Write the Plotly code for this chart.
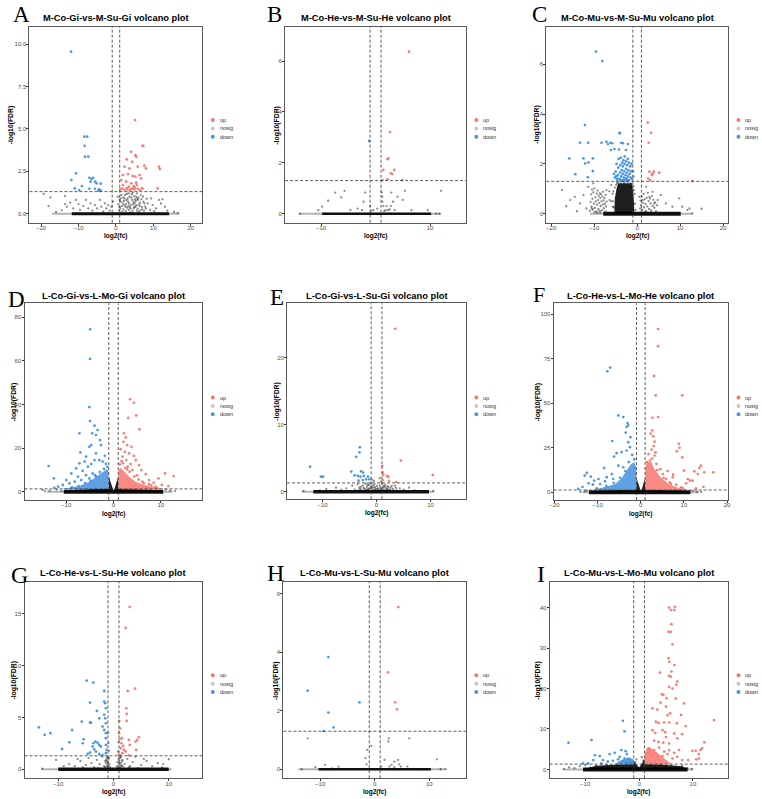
import plotly.graph_objects as go

W, H = 762, 799
FONT = "Liberation Sans"
SERIF = "Liberation Serif"

UP_COLOR = "rgba(248,118,109,0.95)"
DOWN_COLOR = "rgba(66,146,222,0.95)"
NOSIG_COLOR = "rgba(0,0,0,0.45)"
UP_MASS = "rgba(248,118,109,0.85)"
DOWN_MASS = "rgba(66,146,222,0.85)"
LEG_UP, LEG_NOSIG, LEG_DOWN = "#F8766D", "#C8C8C8", "#4A95DA"

PANELS = ["A", "B", "C", "D", "E", "F", "G", "H", "I"]
TITLES = ["M-Co-Gi-vs-M-Su-Gi volcano plot", "M-Co-He-vs-M-Su-He volcano plot",
          "M-Co-Mu-vs-M-Su-Mu volcano plot", "L-Co-Gi-vs-L-Mo-Gi volcano plot",
          "L-Co-Gi-vs-L-Su-Gi volcano plot", "L-Co-He-vs-L-Mo-He volcano plot",
          "L-Co-He-vs-L-Su-He volcano plot", "L-Co-Mu-vs-L-Su-Mu volcano plot",
          "L-Co-Mu-vs-L-Mo-Mu volcano plot"]
GROUPS = ["up", "nosig", "down"]
FC_CUT = [-1, 1]
FDR_CUT = 1.301
X_LABEL = "log2(fc)"
Y_LABEL = "-log10(FDR)"

# ---------------- Panel A ----------------
A_up = [(5.1,5.52),(7.1,4.0),(7.3,4.0),(4.05,3.65),(5.2,3.45),(5.4,3.35),(2.9,3.2),(4.3,3.06),(2.3,2.77),
        (3.6,2.67),(5.8,2.77),(7.6,2.83),(8.0,2.67),(11.5,2.77),(11.7,2.63),(1.85,2.28),(3.2,2.34),(4.5,2.22),
        (5.2,2.18),(6.3,2.28),(6.7,2.08),(1.4,1.98),(2.7,1.89),(4.05,1.79),(5.4,1.83),(1.85,1.69),(3.4,1.59),
        (4.7,1.63),(5.55,1.69),(1.7,1.49),(2.9,1.49),(4.05,1.45),(4.9,1.43),(5.8,1.47),(7.1,1.47),(11.1,1.49),
        (1.15,1.43),(2.3,1.39),(3.6,1.39),(6.3,1.39),(6.9,1.5),(3.0,1.45),(4.4,1.5),(5.0,1.55)]
A_down = [(-12.0,9.55),(-8.46,4.54),(-7.67,4.54),(-8.37,4.0),(-8.3,3.36),(-7.4,3.36),(-10.7,2.38),(-11.9,1.98),
          (-7.1,2.12),(-6.5,2.04),(-6.1,2.12),(-6.8,1.89),(-5.55,1.89),(-5.2,1.79),(-4.1,1.77),(-9.1,1.63),
          (-11.0,1.49),(-9.8,1.39),(-7.1,1.47),(-5.6,1.47),(-4.5,1.43),(-4.05,1.36),(-4.7,1.36)]
A_nosig = [(-19.3,1.16),(-17.5,0.96),(-16,0.1),(-14.5,0.2),(-13.6,1.04),(-18,0.45),(-13.6,0.57),(-13.1,0.41),
           (-12.2,0.65),(-11.4,0.31),(-10.7,0.81),(-10.0,0.57),(-9.6,0.22),(-8.7,0.45),(-8.0,0.81),(-7.4,0.31),
           (-6.8,0.61),(-6.3,0.18),(-5.6,0.51),(-5.0,0.31),(-4.3,0.81),(-3.9,0.41),(-3.4,0.12),(-3.0,0.61),
           (-2.6,0.31),(-2.1,0.51),(-1.7,0.18),(-1.2,0.41),(-0.8,0.71),
           (0.5,1.0),(1.0,0.81),(1.4,1.1),(1.85,0.61),(2.3,0.9),(2.55,0.41),(2.9,1.16),(3.2,0.71),(3.4,0.22),
           (3.6,1.0),(4.0,0.51),(4.3,0.81),(4.5,1.24),(4.75,0.31),(5.0,0.61),(5.4,1.0),(5.6,0.18),(5.9,0.81),
           (6.3,0.45),(6.6,1.1),(7.0,0.26),(7.3,0.71),(7.8,0.41),(8.5,0.61),(9.1,0.22),(9.8,0.51),(10.7,0.31),
           (11.5,0.81),(12.4,0.85),(13.1,0.41),(13.7,0.18),(1.15,0.31),(1.7,0.12),(2.0,0.26),(2.7,0.57),
           (3.3,0.45),(3.8,0.06),(4.1,0.96),(4.7,0.69),(5.2,0.41),(5.7,0.88),(6.1,0.1),(6.4,0.65),(6.8,0.85),
           (7.5,0.18),(8.2,0.88),(0.6,0.57),(1.3,0.71),(2.4,1.1),(3.1,0.88),(4.85,1.04),(0.8,0.2),(1.6,0.45),
           (2.1,0.75),(2.6,0.15),(3.0,0.35),(3.5,0.6),(3.9,0.3),(4.4,0.15),(4.9,0.4),(5.3,0.75),(5.8,0.3),
           (6.2,0.55),(6.9,0.4),(7.2,1.0),(8.0,0.3),(9.4,0.9),(10.2,0.15),(12.0,0.6),(15.5,0.1),(16.5,0.05),
           (1.9,0.95),(2.2,0.5),(2.8,0.8),(3.7,0.38),(4.2,1.15),(4.6,0.55),(5.1,0.85),(5.5,0.5),(6.0,0.95),
           (6.5,0.2),(7.6,0.6),(0.9,0.4),(1.2,0.9),(3.4,1.2),(5.6,1.2)]
A_band = (-11.8, 14.2)
A_band_faint = (-17.0, 17.0)
A_nosig_dense = []
A_up_mass = []
A_down_mass = []
A_xticks = [-20, -10, 0, 10, 20]
A_yticks = [0, 2.5, 5, 7.5, 10]
A_yticklabels = ["0.0", "2.5", "5.0", "7.5", "10.0"]

# ---------------- Panel B ----------------
B_up = [(6.15,6.37),(2.64,3.21),(2.33,2.18),(2.2,2.14),(1.42,1.72),(3.42,1.72),(2.8,1.59),(3.06,1.56),
        (2.2,1.35),(1.24,1.32),(4.9,1.32)]
B_down = [(-1.18,2.86)]
B_nosig = [(-7.4,0.83),(-5.7,0.9),(-8.7,0.51),(-9.8,0.28),(-10.5,0.14),(-13.9,0.0),(-6.3,0.64),(-4.6,0.14),
           (-2.5,0.14),(-1.9,0.83),(-2.2,0.47),(-0.4,0.14),(-0.8,0.12),(1.12,0.84),(1.24,0.67),(1.24,0.47),
           (1.4,0.3),(1.85,0.14),(2.3,0.14),(2.6,0.17),(2.9,0.83),(3.2,0.47),(3.5,0.14),(4.0,0.67),(5.0,0.54),
           (5.4,0.9),(6.6,0.14),(9.6,0.14),(12.0,0.9),(11.1,0.0),(11.7,0.0),(-1.0,0.3),(0.3,0.2),(1.6,0.1),
           (2.0,0.3),(2.8,0.3),(-3.3,0.2)]
B_band = (-9.8, 10.2)
B_band_faint = (-14.0, 12.0)
B_nosig_dense = []
B_up_mass = []
B_down_mass = []
B_xticks = [-10, 10]
B_yticks = [0, 2, 4, 6]
B_yticklabels = ["0", "2", "4", "6"]

# ---------------- Panel C ----------------
C_up = [(2.46,3.66),(3.23,3.25),(2.7,2.85),(2.85,1.69),(3.6,1.62),(3.9,1.69),(5.15,1.65),(3.46,1.55),
        (3.0,1.35),(12.85,1.31),(2.55,1.42)]
C_down = [(-9.6,6.51),(-8.1,6.13),(-12.15,3.56),(-4.1,3.25),(-13.3,2.85),(-11.4,2.85),(-8.3,2.85),(-7.15,2.89),
          (-6.8,2.8),(-6.2,2.85),(-5.8,2.83),(-3.7,2.85),(-3.3,2.83),(-2.15,2.8),(-15.8,2.22),(-12.5,2.22),
          (-12.1,2.02),(-11.3,2.06),(-10.3,2.22),(-14.4,1.59),(-11.5,1.46),(-10.3,1.71),(-6.1,2.56),(-5.3,2.6),
          (-4.2,2.58),(-2.6,2.56),(-4.0,3.23),
          (-5.2,1.45),(-5.0,1.7),(-4.8,2.0),(-4.7,1.35),(-4.5,1.55),(-4.4,1.85),(-4.3,2.2),(-4.1,1.4),(-4.0,1.65),
          (-3.9,1.95),(-3.8,2.25),(-3.7,1.5),(-3.6,1.75),(-3.5,2.05),(-3.45,1.35),(-3.35,1.6),(-3.3,1.9),
          (-3.2,2.15),(-3.1,1.45),(-3.0,1.7),(-2.95,2.0),(-2.9,2.3),(-2.8,1.38),(-2.7,1.55),(-2.6,1.8),
          (-2.55,2.1),(-2.45,1.42),(-2.4,1.65),(-2.3,1.95),(-2.2,2.2),(-2.1,1.5),(-2.0,1.75),(-1.9,2.05),
          (-1.85,1.35),(-1.75,1.6),(-1.6,1.9),(-1.5,1.45),(-1.4,1.7),(-1.3,2.0),(-1.2,1.4),(-4.6,1.4),
          (-3.95,1.35),(-3.25,1.32),(-2.65,1.32),(-2.05,1.34),(-5.4,1.6),(-4.9,1.5)]
C_nosig = [(-17.5,0.95),(-15.6,0.55),(-14.5,0.68),(-13.3,0.41),(-12.5,0.75),(-11.8,0.21),(-11.4,1.08),
           (-7.15,0.95),(-6.4,0.55),(-6.0,1.15),(-5.6,0.28),(-8.7,0.82),(-10.2,1.22),
           (2.1,1.08),(3.6,0.88),(4.8,0.55),(5.5,0.75),(6.7,0.41),(8.2,0.28),(9.8,0.62),(10.5,0.28),(11.7,0.15),
           (12.2,0.21),(12.85,0.01),(0.5,0.68),(1.3,0.55),(2.85,0.68),(4.0,0.41),(-1.4,1.08),
           (-6.5,0.9),(-6.0,0.5),(-5.7,0.8),(-16.5,0.3),(-14,0.1),(15,0.2),
           (-11.0,0.12),(-10.85,0.47),(-10.7,0.78),(-10.62,0.28),(-10.5,0.97),(-10.41,0.6),(-10.3,0.17),
           (-10.18,0.86),(-10.05,0.41),(-9.93,1.02),(-9.84,0.23),(-9.72,0.66),(-9.6,0.5),(-9.5,0.09),
           (-9.41,0.81),(-9.33,0.36),(-9.2,0.93),(-9.1,0.55),(-9.02,0.19),(-8.93,0.72),(-8.82,0.44),
           (-8.7,0.11),(-8.6,0.63),(-8.51,0.31),(-8.43,0.79),(-8.3,0.5),(-8.2,0.14),(-8.1,0.7),(-8.0,0.36),
           (-7.9,0.88),(-7.8,0.54),(-7.72,0.22),(-7.61,0.64),(-7.5,0.4),(-7.42,0.08),(-7.3,0.76),(-7.2,0.29),
           (-7.1,0.49),(-10.55,0.21),(-9.88,0.06),(-9.23,0.04),(-8.58,0.05),
           (0.72,0.21),(0.81,0.53),(0.93,0.33),(1.08,0.69),(1.19,0.16),(1.36,0.44),(1.52,0.8),(1.63,0.26),
           (1.77,0.58),(1.92,0.39),(2.04,0.11),(2.21,0.64),(2.37,0.29),(2.49,0.84),(2.66,0.51),(2.79,0.19),
           (2.97,0.61),(3.12,0.41),(3.28,0.14),(3.44,0.71),(3.62,0.31),(3.79,0.56),(4.02,0.24),(4.18,0.46),
           (4.41,0.09),(4.63,0.34),(1.01,0.05),(1.72,0.06),(2.43,0.04),(3.21,0.05),
           (-5.5,0.9),(-5.6,0.5),(-5.45,0.25),(-4.9,1.15),(-4.5,1.25),(-3.8,1.27),(-3.0,1.25),(-2.2,1.27),
           (-1.5,1.22),(-0.9,1.1),(-0.55,0.8),(-0.5,0.4),(-0.4,0.15),(-0.8,1.5),(-0.9,1.7),(-5.2,1.05),
           (-4.7,1.22),(-1.1,1.2),(-0.75,0.95)]
C_band = (-7.9, 10.15)
C_band_faint = (-11.0, 12.8)
C_nosig_dense = [[(-5.3,0),(-5.2,0.6),(-4.8,1.0),(-4.4,1.22),(-1.3,1.22),(-0.95,0.95),(-0.75,0.5),(-0.65,0)]]
C_up_mass = []
C_down_mass = []
C_xticks = [-20, -10, 0, 10, 20]
C_yticks = [0, 2, 4, 6]
C_yticklabels = ["0", "2", "4", "6"]

# ---------------- Panel D ----------------
D_up = [(3.5,42.4),(4.3,40.8),(4.8,35.0),(3.1,33.9),(5.5,28.6),(2.2,26.8),(2.6,24.9),(2.1,22.9),(2.9,21.4),
        (3.8,20.6),(2.4,18.3),(3.3,17.6),(4.3,16.4),(1.9,16.1),(2.7,14.5),(4.7,14.5),(3.6,12.7),(5.4,12.2),
        (5.9,9.9),(4.0,9.9),(6.8,8.1),(10.9,8.4),(12.7,7.2),(9.5,6.1),(7.5,5.35),(8.5,4.1),(10.2,3.1),
        (11.6,2.6),(8.85,2.3),(7.5,3.5),(6.1,4.6),(1.5,19.5),(2.0,13.0),(3.0,11.5),(5.0,7.5),(7.0,2.2),(9.2,1.8),
        (1.3,12.5),(2.5,11.0),(3.4,9.2),(4.4,7.0),(5.3,5.6),(6.4,3.9),(8.0,2.9),(1.7,14.0),(2.9,10.2)]
D_down = [(-4.95,74.5),(-4.95,60.9),(-5.1,38.8),(-4.95,32.4),(-4.0,30.3),(-3.35,28.3),(-7.2,26.8),(-4.5,26.8),
          (-3.7,26.0),(-4.7,21.4),(-5.1,20.6),(-7.0,18.0),(-2.85,23.7),(-2.65,21.4),(-5.8,16.1),(-3.7,17.6),
          (-7.2,13.0),(-6.1,13.8),(-13.7,11.8),(-12.6,6.1),(-10.0,5.35),(-8.9,8.4),(-7.9,10.7),(-6.5,9.6),
          (-5.4,11.5),(-4.7,12.7),(-4.0,14.5),(-3.0,14.5),(-2.3,13.8),(-10.7,3.1),(-11.7,2.3),(-9.3,3.8),
          (-8.2,4.6),(-7.5,6.9),(-6.8,5.35),(-5.8,7.6),(-5.1,6.1),(-4.4,8.4),(-3.7,6.9),(-1.8,16.5),(-12.5,1.8),
          (-1.3,11.5),(-2.0,10.5),(-2.9,9.0),(-3.9,7.6),(-4.8,5.0),(-6.0,4.0),(-7.4,2.6),(-8.8,2.0),(-1.6,12.8)]
D_nosig = [(-15,0.8),(-13.5,0.5),(-12,1.0),(-11,0.4),(11,1.0),(12,0.6),(13,0.3),(-14.5,0.2)]
D_band = (-10.5, 10.5)
D_band_faint = (-14.0, 12.5)
D_nosig_dense = [[(-10.5,0),(-8,0.9),(-4,1.25),(-1,1.3),(-1,7),(-0.6,4.5),(-0.25,1.5),(0,0.6),(0.25,1.5),
                  (0.6,4.5),(1,7),(1,1.3),(4,1.25),(8,0.9),(10.5,0)]]
D_up_mass = [[(1.05,1.3),(1.05,10),(1.5,11),(2.2,9.5),(3.3,7),(4.7,4.5),(6.8,2.8),(9.5,1.8),(10.5,1.3)]]
D_down_mass = [[(-1.05,1.3),(-1.05,9),(-1.3,10.5),(-2.3,9.0),(-3.7,6.8),(-5.1,4.6),(-7.2,2.6),(-9.5,1.7),(-11,1.3)]]
D_xticks = [-10, 0, 10]
D_yticks = [0, 20, 40, 60, 80]
D_yticklabels = ["0", "20", "40", "60", "80"]

# ---------------- Panel E ----------------
E_up = [(3.45,24.3),(4.5,4.63),(10.4,2.49),(1.07,3.83),(1.13,2.89),(1.25,2.49),(1.93,2.34),(2.17,2.24),
        (1.13,1.74),(3.6,1.44),(2.3,1.6)]
E_down = [(-3.1,6.62),(-3.15,5.87),(-3.76,5.2),(-12.3,3.73),(-4.68,2.99),(-2.84,3.03),(-2.5,2.84),(-4.06,2.44),
          (-3.45,2.34),(-2.97,2.24),(-2.35,2.34),(-10.3,2.24),(-9.9,2.24),(-1.6,2.24),(-1.93,1.84),(-1.32,1.84),
          (-2.54,1.74),(-3.33,1.64)]
E_nosig = [(-9.3,0.4),(-5.6,0.5),(-10.5,0.2),(-4.5,0.9),(-4.0,0.3),(-3.5,1.1),(-3.2,0.6),(-2.8,0.2),(-2.5,0.9),
           (-2.2,0.4),(-2.0,1.2),(-1.8,0.7),(-1.6,0.3),(-1.4,1.0),(-1.2,0.5),(-1.0,0.8),(-0.8,0.2),(-0.6,0.6),
           (-0.4,1.1),(-0.2,0.3),(0.2,0.5),(0.4,0.2),(0.6,0.9),(0.8,0.4),(1.0,1.2),(1.2,0.6),(1.4,0.3),(1.6,1.0),
           (1.8,0.5),(2.0,0.8),(2.3,0.2),(2.6,0.6),(3.0,0.4),(3.4,0.9),(3.8,0.2),(4.3,0.5),(5.0,0.3),(6.0,0.6),
           (7.0,0.2),(-6.5,0.3),(-7.5,0.6),(-3.0,0.4),(-2.6,0.1),(-1.9,0.3),(1.1,0.2),(1.5,0.7),(2.1,0.35),
           (-1.1,1.25),(-0.5,1.6),(0.6,2.0),(0.8,1.5),(-0.8,1.8),(-13.5,0.1),(10.5,0.1),
           (-3.3,0.2),(-2.9,0.75),(-2.4,0.55),(-2.1,0.15),(-1.7,1.0),(-1.5,0.45),(-1.3,0.2),(-0.9,0.55),
           (-0.7,0.95),(-0.5,0.25),(-0.3,0.7),(-0.1,0.45),(0.1,0.85),(0.3,0.35),(0.5,0.1),(0.7,0.6),(0.9,0.25),
           (1.3,0.9),(1.7,0.15),(1.9,0.35),(2.2,0.7),(2.5,0.3),(2.8,0.85),(3.2,0.15),(3.6,0.55)]
E_band = (-11.7, 9.7)
E_band_faint = (-13.9, 10.6)
E_nosig_dense = []
E_up_mass = []
E_down_mass = []
E_xticks = [-10, 0, 10]
E_yticks = [0, 10, 20]
E_yticklabels = ["0", "10", "20"]

# ---------------- Panel F ----------------
F_up = [(4.0,91.7),(4.0,82.1),(3.07,65.4),(3.45,54.5),(9.58,54.5),(4.0,42.3),(2.7,41.9),(2.68,34.8),(2.3,33.0),
        (2.9,31.5),(3.2,28.5),(3.0,26.0),(2.5,24.0),(3.4,22.5),(8.8,27.3),(8.97,25.0),(8.35,23.1),(9.6,19.7),
        (10.0,12.2),(13.95,15.0),(13.6,13.7),(12.4,11.8),(14.7,11.3),(16.8,11.3),(13.2,10.3),(10.9,7.5),
        (11.4,6.6),(12.0,6.6),(10.5,5.1),(7.4,8.5),(6.7,5.6),(5.1,10.3),(5.9,7.5),(8.2,4.3),(9.3,2.8),
        (3.2,20.7),(2.1,17.9),(3.6,16.0),(4.5,13.0),(6.2,12.0),(7.5,10.0),(14.5,3.0),(12.8,2.2),
        (1.4,17.0),(2.6,19.0),(3.8,12.5),(5.3,8.2),(7.0,4.8),(9.8,2.2),(1.8,21.5)]
F_down = [(-7.75,68.0),(-7.1,70.1),(-5.2,43.2),(-4.06,42.3),(-3.07,38.9),(-2.9,37.6),(-3.3,36.7),(-3.5,33.5),
          (-6.6,28.8),(-2.4,31.0),(-2.9,28.2),(-2.5,25.4),(-4.44,22.6),(-3.3,23.5),(-5.6,22.0),(-6.2,20.1),
          (-8.5,13.7),(-12.5,10.9),(-13.0,9.4),(-11.6,8.8),(-9.8,7.5),(-10.8,6.6),(-7.9,8.5),(-8.3,6.2),
          (-6.7,10.3),(-6.4,7.5),(-12.1,5.1),(-11.1,4.3),(-9.4,4.7),(-5.2,15.0),(-4.06,14.1),(-2.0,21.0),
          (-13.5,3.0),(-14.5,2.0),(-1.5,18.5),(-2.8,17.0),(-3.6,12.0),(-4.8,8.2),(-6.3,5.2),(-8.0,3.6),(-10.2,2.2)]
F_nosig = [(-13,0.5),(-12.5,1.0),(12,0.8),(13,0.4),(-14,0.2),(14,0.2)]
F_band = (-12.0, 11.5)
F_band_faint = (-13.5, 13.5)
F_nosig_dense = [[(-12,0),(-9,1.0),(-4,1.3),(-1,1.3),(-1,8),(-0.55,4.5),(-0.2,1.5),(0,0.8),(0.2,1.5),(0.55,4.5),
                  (1,8),(1,1.3),(4,1.3),(9,1.0),(11.5,0)]]
F_up_mass = [[(1.05,1.3),(1.05,14),(1.5,17),(2.4,17),(3.2,13),(4.4,9),(6.5,4.5),(9,2.3),(11,1.3)]]
F_down_mass = [[(-1.05,1.3),(-1.05,14),(-1.5,17),(-2.4,15.5),(-3.2,12.5),(-4.4,8),(-6,4.5),(-8.5,2.7),(-11,1.3)]]
F_xticks = [-20, -10, 0, 10, 20]
F_yticks = [0, 25, 50, 75, 100]
F_yticklabels = ["0", "25", "50", "75", "100"]

# ---------------- Panel G ----------------
G_up = [(2.93,15.67),(2.2,13.65),(3.9,7.79),(2.57,7.56),(2.33,5.89),(2.4,5.34),(2.4,4.67),(1.05,4.67),(1.2,3.96),
        (1.14,2.9),(1.5,3.0),(1.44,2.51),(1.74,2.25),(1.32,2.03),(1.9,1.87),(2.2,1.71),(2.8,2.83),(2.93,2.35),
        (4.0,2.67),(4.3,2.83),(4.1,1.87),(2.8,1.35),(1.02,3.48),(1.6,1.55),(1.14,1.38),(4.6,3.09)]
G_down = [(-4.85,8.56),(-3.65,8.37),(-1.68,7.56),(-4.25,6.44),(-1.68,6.53),(-1.5,6.37),(-1.38,5.89),(-3.0,5.63),
          (-5.75,4.6),(-4.25,4.5),(-4.07,4.5),(-2.57,4.92),(-1.68,5.25),(-1.5,4.92),(-1.38,4.44),(-1.98,4.12),
          (-13.5,4.05),(-12.45,3.32),(-11.4,3.48),(-7.5,3.8),(-8.0,2.6),(-5.4,2.9),(-9.3,1.96),(-5.57,2.51),
          (-3.65,2.51),(-3.3,2.67),(-2.87,2.57),(-2.57,2.35),(-2.28,2.19),(-3.77,2.19),(-3.47,1.93),(-3.17,1.71),
          (-4.25,1.61),(-4.67,1.48),(-1.38,3.48),(-1.38,3.0),(-1.38,2.35),(-1.26,1.87),(-1.38,1.55),(-1.98,1.38),
          (-2.57,1.48),(-1.68,3.8)]
G_nosig = [(-10.4,0.9),(10,0.97),(8.8,0.19),(-8,0.5),(-7,0.3),(-6,0.8),(-5,0.4),(-4.5,1.1),(-4,0.6),(-3.5,0.2),
           (-3,0.9),(-2.5,0.5),(-2,1.2),(-1.7,0.3),(-1.5,0.8),(-1.2,1.1),(-1.1,0.5),(-0.9,1.0),(-0.9,2.5),
           (-0.95,3.5),(-0.8,1.8),(0.8,1.7),(0.9,2.6),(0.95,1.4),(1.1,0.6),(1.2,1.1),(1.4,0.3),(1.6,0.9),(2,0.5),
           (2.5,1.0),(3,0.3),(3.5,0.7),(4,1.2),(5,0.4),(6,0.8),(7,0.3),(8,0.6),(-9,0.3),(9,0.5),(-12.9,0.05),
           (-6.5,1.0),(-5.5,0.2),(-2.8,0.1),(2.8,0.2),(4.5,0.1),(5.5,1.0),
           (-1.5,0.2),(-1.4,0.6),(-1.3,0.9),(-1.2,0.3),(-1.15,0.75),(-1.05,1.2),(-1.0,0.15),(-0.95,0.65),
           (-0.9,0.35),(-0.85,1.1),(-0.75,0.5),(-0.65,0.2),(0.6,0.3),(0.7,0.7),(0.8,0.15),(0.9,1.0),(1.0,0.45),
           (1.05,0.85),(1.15,0.2),(1.25,0.6),(1.35,1.2),(1.45,0.4),(1.55,0.75),(1.7,0.25)]
G_band = (-10.0, 10.0)
G_band_faint = (-13.0, 10.5)
G_nosig_dense = []
G_up_mass = []
G_down_mass = []
G_xticks = [-10, 0, 10]
G_yticks = [0, 5, 10, 15]
G_yticklabels = ["0", "5", "10", "15"]

# ---------------- Panel H ----------------
H_up = [(4.33,5.55),(2.39,3.32),(3.73,2.29),(4.09,2.05)]
H_down = [(-8.5,3.84),(-12.3,2.69),(-2.8,2.29),(-8.5,1.94),(-7.55,1.43),(-9.4,1.31)]
H_nosig = [(-12.3,1.06),(2.58,1.06),(2.5,0.95),(6.33,1.06),(-1.36,0.66),(-1.7,0.38),(-0.64,0.8),(11.4,0.34),
           (-9.1,0.15),(-10.9,0.07),(1.8,0.32),(2.7,0.09),(3.1,0.15),(3.6,0.07),(4.5,0.17),(4.8,0.09),(6.0,0.09),
           (13,0.0),(12.1,0.0),(-13.4,0.0),(-6.6,0.09),(-7.9,0.03),(-1.5,0.17),(1.2,0.09),(3.6,0.26),(4.3,0.32)]
H_band = (-10.3, 10.3)
H_band_faint = (-14.0, 12.9)
H_nosig_dense = []
H_up_mass = []
H_down_mass = []
H_xticks = [-10, 0, 10]
H_yticks = [0, 2, 4, 6]
H_yticklabels = ["0", "2", "4", "6"]

# ---------------- Panel I ----------------
I_up = [(5.58,40.0),(6.63,40.2),(5.9,39.4),(6.5,39.4),(6.0,35.9),(5.46,34.0),(5.9,34.0),(6.2,30.9),(5.46,27.5),
        (5.6,26.6),(6.56,25.8),(3.87,23.9),(6.0,24.2),(5.58,23.1),(5.9,22.9),(7.1,21.7),(6.9,20.9),(4.23,18.6),
        (4.5,18.4),(5.1,17.6),(8.3,16.3),(5.58,20.4),(6.2,20.0),(2.5,15.1),(3.4,14.8),(5.0,15.5),(5.77,13.85),
        (5.28,13.4),(3.1,11.8),(3.6,11.5),(4.66,11.6),(5.58,11.6),(7.0,11.4),(13.9,12.2),(8.65,10.7),(2.5,9.7),
        (4.36,9.7),(4.85,9.2),(6.5,8.9),(8.0,8.7),(2.8,7.1),(3.6,6.8),(4.5,6.6),(5.58,6.4),(7.1,7.7),(12.1,6.7),
        (9.9,4.6),(10.5,4.6),(11.4,4.8),(11.7,5.2),(11.1,3.8),(10.6,2.5),(11.1,2.7),(1.9,5.2),(2.8,4.8),(3.7,5.4),
        (4.66,4.4),(5.58,4.8),(6.5,4.1),(7.4,4.8),(1.6,4.0),(2.5,3.5),(3.4,3.1),(4.36,3.3),(5.28,3.8),(6.2,2.7),
        (7.1,3.1),(8.0,2.3),(9.1,2.3),(4.0,16.5),(6.8,17.5),(3.0,9.0),(7.8,13.5),(5.0,8.0)]
I_down = [(-13.1,6.6),(-8.83,7.25),(-3.0,12.0),(-2.7,9.4),(-8.2,3.5),(-7.3,3.3),(-5.46,3.8),(-4.54,4.1),
          (-3.3,4.8),(-2.5,4.5),(-2.27,3.8),(-3.6,3.1),(-2.7,2.7),(-1.78,2.5),(-10.4,1.48),(-8.5,2.3),(-6.7,2.3),
          (-5.8,1.9),(-4.85,2.1),(-3.9,2.5),(-3.0,2.06),(-2.4,1.8),(-1.65,2.1),(-1.3,1.48),(-2.1,1.48),(-7.0,1.48),
          (-9.45,1.48)]
I_nosig = [(-13,0.5),(-12,0.3),(-11,0.8),(-10,1.0),(-9,0.5),(-8,0.9),(-7,0.4),(-6,1.1),(-5,0.6),(-4,1.0),
           (-3,0.5),(-2,1.2),(2,1.1),(3,0.6),(4,1.2),(5,0.5),(6,1.0),(7,0.4),(8,0.9),(9,0.3),(-0.5,2.5),
           (0.5,3.0),(0.8,2.2),(-0.7,1.8),(-14,0.1),(9.8,0.1)]
I_band = (-10.4, 9.0)
I_band_faint = (-14.0, 10.0)
I_nosig_dense = [[(-10.4,0),(-8,0.9),(-4,1.2),(-1,1.3),(-1,2.0),(-0.3,0.8),(0,0.5),(0.4,1.2),(1,2.6),(1,1.3),
                  (4,1.2),(8,0.8),(9,0)]]
I_up_mass = [[(1.05,1.3),(1.05,4),(1.5,5.5),(2.5,5),(3.5,4),(5,2.5),(6,1.3)]]
I_down_mass = [[(-1.05,1.3),(-1.05,2.5),(-2,3),(-3.5,2.2),(-4.5,1.3)]]
I_xticks = [-10, 0, 10]
I_yticks = [0, 10, 20, 30, 40]
I_yticklabels = ["0", "10", "20", "30", "40"]

DATA = {
    p: dict(up=globals()[p + "_up"], down=globals()[p + "_down"], nosig=globals()[p + "_nosig"],
            band=globals()[p + "_band"], band_faint=globals()[p + "_band_faint"],
            dense=globals()[p + "_nosig_dense"],
            up_mass=globals()[p + "_up_mass"], down_mass=globals()[p + "_down_mass"],
            xticks=globals()[p + "_xticks"], yticks=globals()[p + "_yticks"],
            yticklabels=globals()[p + "_yticklabels"])
    for p in PANELS
}

# ---------------- layout specs (pixels) ----------------
BOX = {"A": (25.7, 200.3, 26.7, 222.7), "B": (283.7, 466.3, 26.7, 222.7), "C": (547.3, 730.7, 26.7, 222.7),
       "D": (20.7, 200.3, 303.3, 500.0), "E": (285.7, 466.3, 303.3, 499.3), "F": (554.7, 730.7, 303.3, 500.0),
       "G": (20.7, 200.3, 581.7, 778.3), "H": (282.0, 466.3, 581.7, 778.3), "I": (550.7, 730.7, 581.7, 778.3)}
XRANGE = {"A": (-23.1, 23.1), "B": (-16.6, 16.6), "C": (-21.15, 21.15), "D": (-18.8, 18.8), "E": (-16.55, 16.55),
          "F": (-20.2, 20.2), "G": (-16.1, 16.1), "H": (-16.75, 16.75), "I": (-16.6, 16.5)}
YRANGE = {"A": (-0.53, 11.02), "B": (-0.354, 7.35), "C": (-0.36, 7.51), "D": (-3.8, 86.4), "E": (-1.14, 28.1),
          "F": (-4.3, 106.2), "G": (-0.87, 18.1), "H": (-0.31, 6.42), "I": (-2.2, 46.4)}
BANDW = {"A": 3, "B": 2.5, "C": 4, "D": 4, "E": 3.5, "F": 4, "G": 3.5, "H": 2.5, "I": 4}
LETTER_POS = {"A": (17.5, 14.5, 23), "B": (273, 14.5, 23), "C": (540.5, 14.5, 23), "D": (12.8, 299, 23),
              "E": (276, 297.5, 23), "F": (540, 294.5, 22), "G": (15.5, 575, 24), "H": (274, 573.3, 24),
              "I": (542.2, 574.3, 24)}
TITLE_Y = {"A": 18.3, "B": 18.3, "C": 18.3, "D": 296.3, "E": 296.3, "F": 296.3, "G": 573.3, "H": 573.3, "I": 573.3}
YTITLE_X = {"A": 6.7, "B": 275.5, "C": 538.0, "D": 9.7, "E": 276.0, "F": 538.8, "G": 9.7, "H": 274.5, "I": 538.8}
LEGEND_X = {"A": 210.7, "B": 476.7, "C": 741.3, "D": 210.7, "E": 476.7, "F": 741.3, "G": 210.7, "H": 476.7, "I": 741.3}
LEGEND_Y = {"A": 120, "B": 120, "C": 120, "D": 397.5, "E": 397.5, "F": 397.5, "G": 675.3, "H": 675.3, "I": 675.3}
LEG_STEP = 8.4


def px(x):
    return x / W


def py(y):
    return 1 - y / H


fig = go.Figure()
shapes, annotations = [], []
layout = {}

for i, p in enumerate(PANELS, start=1):
    d = DATA[p]
    xa = "x" if i == 1 else f"x{i}"
    ya = "y" if i == 1 else f"y{i}"
    xname = "xaxis" if i == 1 else f"xaxis{i}"
    yname = "yaxis" if i == 1 else f"yaxis{i}"
    l, r, t, b = BOX[p]
    common = dict(ticks="outside", ticklen=2, tickwidth=0.6, tickcolor="#333333",
                  tickfont=dict(size=6, color="#4D4D4D", family=FONT),
                  showline=True, mirror=True, linecolor="#5a5a5a", linewidth=1,
                  showgrid=False, zeroline=False)
    layout[xname] = dict(domain=[px(l), px(r)], anchor=ya, range=list(XRANGE[p]),
                         tickmode="array", tickvals=d["xticks"], ticklabelstandoff=-3,
                         ticktext=[str(v).replace("-", "\u2212") for v in d["xticks"]], **common)
    layout[yname] = dict(domain=[py(b), py(t)], anchor=xa, range=list(YRANGE[p]), ticklabelstandoff=-1,
                         tickmode="array", tickvals=d["yticks"], ticktext=d["yticklabels"], **common)

    def add(tr):
        tr.update(xaxis=xa, yaxis=ya, showlegend=False, hoverinfo="skip")
        fig.add_trace(tr)

    lo, hi = d["band_faint"]
    add(go.Scatter(x=[lo, hi], y=[0, 0], mode="lines", line=dict(color="rgba(0,0,0,0.3)", width=2)))
    for poly in d["dense"]:
        add(go.Scatter(x=[v[0] for v in poly], y=[v[1] for v in poly], mode="lines", fill="toself",
                       fillcolor="rgba(0,0,0,0.88)", line=dict(width=0)))
    add(go.Scatter(x=[v[0] for v in d["nosig"]], y=[v[1] for v in d["nosig"]], mode="markers",
                   marker=dict(size=2.3, color=NOSIG_COLOR, line=dict(width=0))))
    lo, hi = d["band"]
    add(go.Scatter(x=[lo, hi], y=[0, 0], mode="lines", line=dict(color="rgba(0,0,0,0.92)", width=BANDW[p])))
    for poly in d["down_mass"]:
        add(go.Scatter(x=[v[0] for v in poly], y=[v[1] for v in poly], mode="lines", fill="toself",
                       fillcolor=DOWN_MASS, line=dict(width=0)))
    for poly in d["up_mass"]:
        add(go.Scatter(x=[v[0] for v in poly], y=[v[1] for v in poly], mode="lines", fill="toself",
                       fillcolor=UP_MASS, line=dict(width=0)))
    add(go.Scatter(x=[v[0] for v in d["down"]], y=[v[1] for v in d["down"]], mode="markers",
                   marker=dict(size=2.7, color=DOWN_COLOR, line=dict(width=0))))
    add(go.Scatter(x=[v[0] for v in d["up"]], y=[v[1] for v in d["up"]], mode="markers",
                   marker=dict(size=2.7, color=UP_COLOR, line=dict(width=0))))

    dash = dict(color="#333333", width=0.8, dash="3px,2px")
    for v in FC_CUT:
        shapes.append(dict(type="line", xref=xa, yref=f"{ya} domain", x0=v, x1=v, y0=0, y1=1, line=dash))
    shapes.append(dict(type="line", xref=f"{xa} domain", yref=ya, x0=0, x1=1, y0=FDR_CUT, y1=FDR_CUT, line=dash))

    annotations.append(dict(text=f"<b>{TITLES[i-1]}</b>", x=px((l + r) / 2), y=py(TITLE_Y[p]), xref="paper",
                            yref="paper", xanchor="center", yanchor="middle", showarrow=False,
                            font=dict(size=9.3, color="black", family=FONT)))
    lx, ly, ls = LETTER_POS[p]
    annotations.append(dict(text=p, x=px(lx), y=py(ly), xref="paper", yref="paper", xanchor="center",
                            yanchor="middle", showarrow=False, font=dict(size=ls, color="black", family=SERIF)))
    annotations.append(dict(text=f"<b>{X_LABEL}</b>", x=px((l + r) / 2), y=py(b + 13.5), xref="paper",
                            yref="paper", xanchor="center", yanchor="middle", showarrow=False,
                            font=dict(size=6.5, color="black", family=FONT)))
    annotations.append(dict(text=f"<b>{Y_LABEL}</b>", x=px(YTITLE_X[p]), y=py((t + b) / 2), xref="paper",
                            yref="paper", xanchor="center", yanchor="middle", textangle=-90, showarrow=False,
                            font=dict(size=6.8, color="black", family=FONT)))
    for k, (g, c) in enumerate(zip(GROUPS, [LEG_UP, LEG_NOSIG, LEG_DOWN])):
        cx, cy = LEGEND_X[p], LEGEND_Y[p] + k * LEG_STEP
        shapes.append(dict(type="circle", xref="paper", yref="paper", x0=px(cx - 2), x1=px(cx + 2),
                           y0=py(cy + 2), y1=py(cy - 2), fillcolor=c, line=dict(width=0)))
        annotations.append(dict(text=g, x=px(cx + 5), y=py(cy), xref="paper", yref="paper", xanchor="left",
                                yanchor="middle", showarrow=False, font=dict(size=5.5, color="#333333", family=FONT)))

fig.update_layout(width=W, height=H, margin=dict(l=0, r=0, t=0, b=0), autosize=False,
                  plot_bgcolor="white", paper_bgcolor="white", showlegend=False,
                  shapes=shapes, annotations=annotations, **layout)
fig.write_html("out.html")
